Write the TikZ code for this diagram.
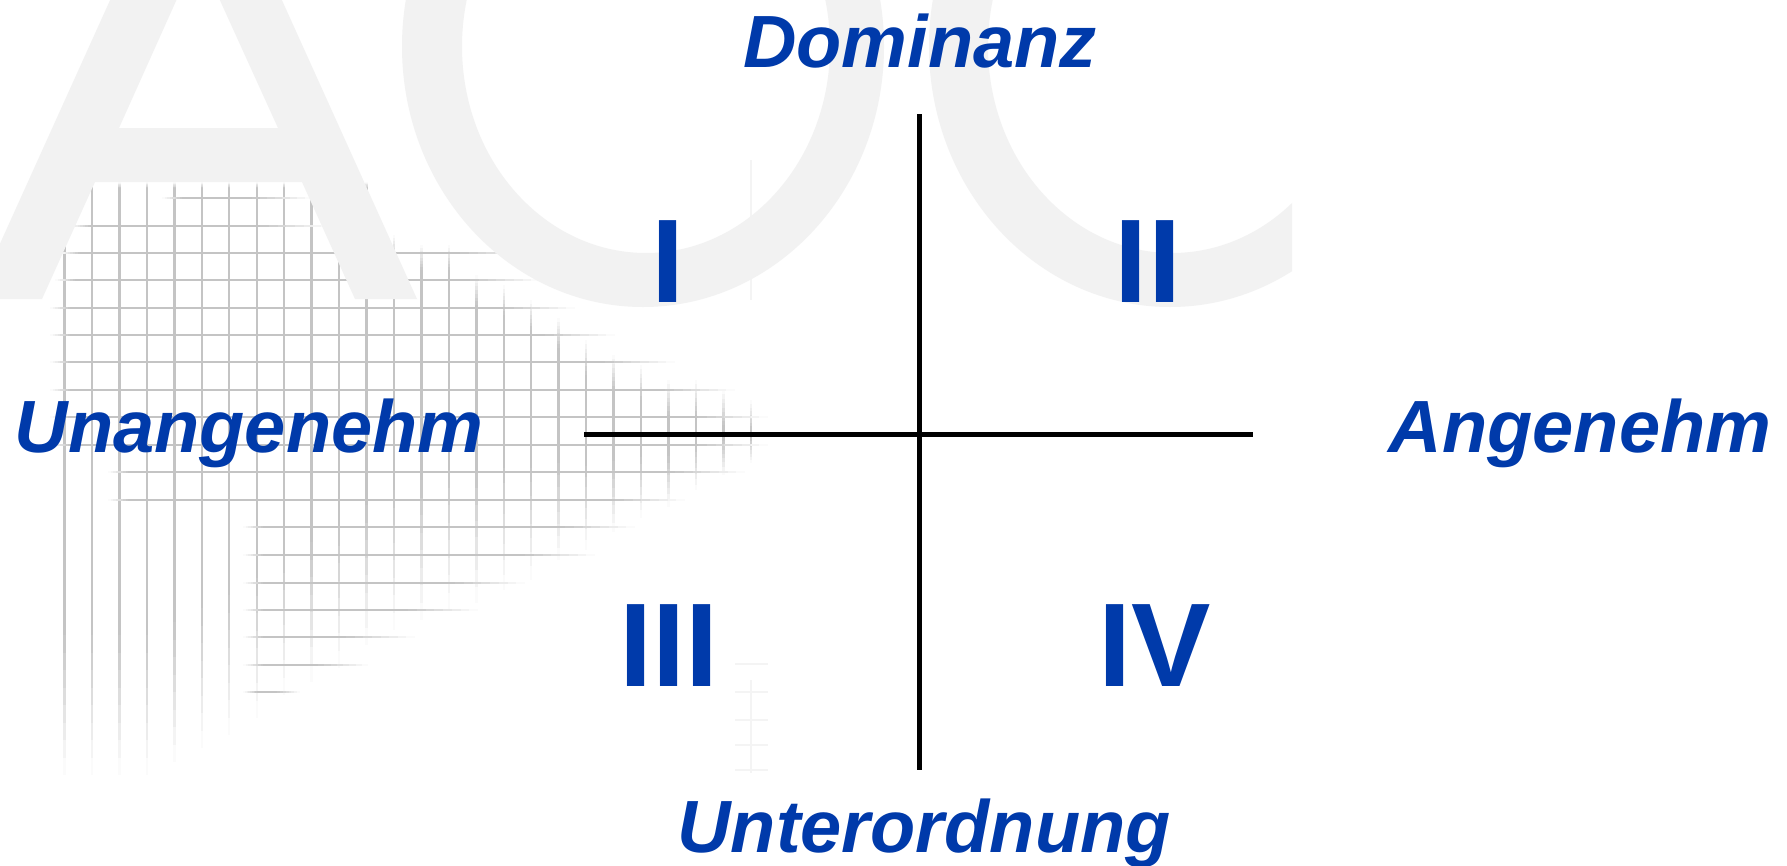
\documentclass[tikz,border=0pt]{standalone}
\usepackage{fontspec}
\setmainfont{Liberation Sans}
\definecolor{lblue}{RGB}{0,58,170}
\definecolor{wmgray}{RGB}{242,242,242}
\definecolor{gridc}{RGB}{196,196,196}
\definecolor{gridf}{RGB}{244,244,244}
\tikzset{
  axislabel/.style={text=lblue, font=\fontsize{74}{74}\selectfont\bfseries\itshape, inner sep=0pt, anchor=base},
  quadrant/.style={text=lblue, font=\fontsize{119}{119}\selectfont\bfseries, inner sep=0pt, anchor=base},
  axisline/.style={line width=5pt, black},
  watermark/.style={fill=wmgray, even odd rule},
}
% horizontal grid line: y, x1, x2 (fades at both ends)
\newcommand\hgl[3]{%
  \pgfmathsetmacro\fa{min(20,(#3-#2)/4)}%
  \pgfmathsetmacro\fb{min(70,(#3-#2)/2.5)}%
  \pgfmathsetmacro\xa{#2+\fa}\pgfmathsetmacro\xb{#3-\fb}%
  \fill[gridc] (\xa,#1-1.2) rectangle (\xb,#1+1.2);
  \foreach \i in {1,...,8}{%
    \pgfmathtruncatemacro\pin{100*(\i-0.5)/8}%
    \pgfmathtruncatemacro\pout{100-\pin}%
    \pgfmathsetmacro\la{#2+\fa*(\i-1)/8}\pgfmathsetmacro\lb{#2+\fa*\i/8}%
    \pgfmathsetmacro\ra{\xb+\fb*(\i-1)/8}\pgfmathsetmacro\rb{\xb+\fb*\i/8}%
    \fill[gridc!\pin!white] (\la,#1-1.2) rectangle (\lb,#1+1.2);
    \fill[gridc!\pout!white] (\ra,#1-1.2) rectangle (\rb,#1+1.2);
  }%
}
% vertical grid line: x, top, bottom, top fade length
\newcommand\vgl[4]{%
  \pgfmathsetmacro\fa{#4}%
  \pgfmathsetmacro\fb{min(140,(#3-#2)/2.5)}%
  \pgfmathsetmacro\ya{#2+\fa}\pgfmathsetmacro\yb{#3-\fb}%
  \fill[gridc] (#1-1.2,\ya) rectangle (#1+1.2,\yb);
  \foreach \i in {1,...,8}{%
    \pgfmathtruncatemacro\pin{100*(\i-0.5)/8}%
    \pgfmathtruncatemacro\pout{100-\pin}%
    \pgfmathsetmacro\la{#2+\fa*(\i-1)/8}\pgfmathsetmacro\lb{#2+\fa*\i/8}%
    \pgfmathsetmacro\ra{\yb+\fb*(\i-1)/8}\pgfmathsetmacro\rb{\yb+\fb*\i/8}%
    \fill[gridc!\pin!white] (#1-1.2,\la) rectangle (#1+1.2,\lb);
    \fill[gridc!\pout!white] (#1-1.2,\ra) rectangle (#1+1.2,\rb);
  }%
}
\begin{document}
\begin{tikzpicture}[x=1pt,y=-1pt]
\useasboundingbox (0,0) rectangle (1787,865);
\fill[white] (0,0) rectangle (1787,865);

% --- background grid ---
\foreach \x/\t/\b/\f in {64.5/182/775/10, 92/182/775/6, 119.4/182/775/6, 146.9/182/775/6,
  174.3/182/762/6, 201.8/182/748/6, 229.2/182/735/6, 256.7/182/718/6, 284.1/182/695/6,
  311.6/182/682/6, 339/182/668/6, 366.5/182/645/6, 393.9/235/630/25, 421.4/245/620/25,
  448.8/245/610/25, 476.3/275/603/30, 503.7/285/590/30, 531.2/300/580/30, 558.6/318/560/30,
  586.1/340/550/35, 613.5/355/532/35, 641/365/518/35, 668.4/380/507/35, 695.9/380/490/35,
  723.3/390/475/35, 750.8/400/463/30}
  {\vgl{\x}{\t}{\b}{\f}}
\foreach \y/\a/\b in {198/162/312, 226/70/330, 253/60/530, 280/55/540, 308/50/575,
  335/50/615, 362/50/675, 390/50/735, 417/50/768, 445/50/768, 472/108/745,
  500/108/685, 527/243/635, 555/243/595, 583/243/525, 610/243/478, 637/243/415,
  665/243/368, 692/243/300}
  {\hgl{\y}{\a}{\b}}
\draw[gridf, line width=2pt] (751,160) -- (751,300);
\draw[gridf, line width=2pt] (751,680) -- (751,773);
\foreach \y in {664,692,720,745,770}
  {\draw[gridf, line width=2pt] (735,\y) -- (768,\y);}

% --- watermark letters ---
\begin{scope}
  \clip (0,0) rectangle (1787,865);
  \fill[watermark] (-25,299) -- (196,-190) -- (417,299) -- (355,299) -- (302,182)
    -- (95,182) -- (42,299) -- cycle
    (119,128) -- (198,-48) -- (278,128) -- cycle;
  \fill[watermark] (643,46.5) ellipse [x radius=241, y radius=260.5]
    (646,46.5) ellipse [x radius=184, y radius=206.5];
  \begin{scope}
    \clip (0,-10) rectangle (1292,870);
    \fill[watermark] (1170,46.5) ellipse [x radius=241, y radius=260.5]
      (1172,46.5) ellipse [x radius=184, y radius=206.5];
  \end{scope}
\end{scope}

% --- axes ---
\coordinate (ytop) at (919,114);
\coordinate (ybot) at (919,770);
\coordinate (xleft) at (584,434);
\coordinate (xright) at (1253,434);
\draw[axisline] (ytop) -- (ybot);
\draw[axisline] (xleft) -- (xright);

% --- axis labels ---
\node[axislabel] (dom) at (920,67) {Dominanz};
\node[axislabel] (unan) at (249,452) {Unangenehm};
\node[axislabel] (ang) at (1580,452) {Angenehm};
\node[axislabel] (unt) at (924,852) {Unterordnung};

% --- quadrants ---
\node[quadrant] (q1) at (668.5,302) {I};
\node[quadrant] (q2) at (1148,302) {II};
\node[quadrant] (q3) at (669,686) {III};
\node[quadrant] (q4) at (1155,686) {IV};
\end{tikzpicture}
\end{document}
